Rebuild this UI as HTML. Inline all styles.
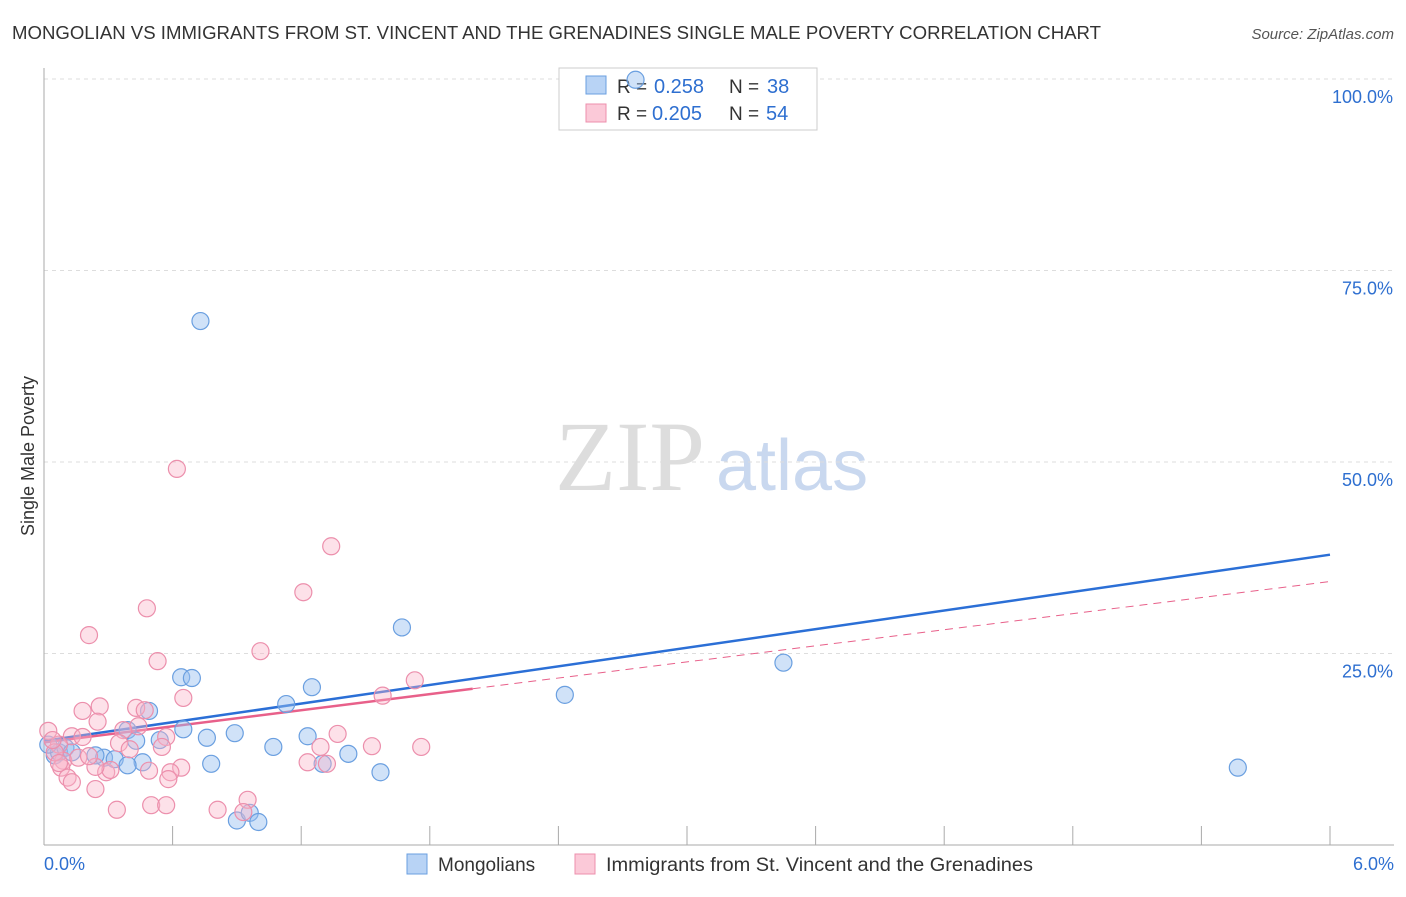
<!DOCTYPE html>
<html><head><meta charset="utf-8"><style>
body{margin:0;background:#fff;font-family:"Liberation Sans",sans-serif;}
</style></head><body>
<svg width="1406" height="892" id="c" xmlns="http://www.w3.org/2000/svg">
<text x="12" y="39" font-size="18" fill="#333" textLength="1089" lengthAdjust="spacingAndGlyphs">MONGOLIAN VS IMMIGRANTS FROM ST. VINCENT AND THE GRENADINES SINGLE MALE POVERTY CORRELATION CHART</text>
<text x="1394" y="39" font-size="15" fill="#555" font-style="italic" text-anchor="end">Source: ZipAtlas.com</text>
<text x="34" y="456" font-size="18" fill="#333" transform="rotate(-90 34 456)" text-anchor="middle">Single Male Poverty</text>
<text x="555" y="490" font-size="100" fill="#ddd" font-family="Liberation Serif,serif">ZIP</text>
<text x="716" y="490" font-size="72" fill="#c9d8ef">atlas</text>
<g id="grid"></g><g id="lines"></g>
<g>
<rect x="559" y="68" width="258" height="62" fill="#fff" stroke="#ccc"/>
<rect x="586" y="76" width="20" height="18" fill="#b8d3f5" stroke="#6a9fe0"/>
<rect x="586" y="104" width="20" height="18" fill="#fbc9d8" stroke="#ec8fac"/>
<text x="617" y="93" font-size="19" fill="#333">R =</text><text x="654" y="93" font-size="20" fill="#2e6fd0">0.258</text>
<text x="729" y="93" font-size="19" fill="#333">N =</text><text x="767" y="93" font-size="20" fill="#2e6fd0">38</text>
<text x="617" y="120" font-size="19" fill="#333">R =</text><text x="652" y="120" font-size="20" fill="#2e6fd0">0.205</text>
<text x="729" y="120" font-size="19" fill="#333">N =</text><text x="766" y="120" font-size="20" fill="#2e6fd0">54</text>
</g>
<g id="pts"></g>
<g>
<rect x="407" y="854" width="20" height="20" fill="#b8d3f5" stroke="#6a9fe0"/>
<text x="438" y="871" font-size="19" fill="#333">Mongolians</text>
<rect x="575" y="854" width="20" height="20" fill="#fbc9d8" stroke="#ec8fac"/>
<text x="606" y="871" font-size="19" fill="#333" textLength="427" lengthAdjust="spacingAndGlyphs">Immigrants from St. Vincent and the Grenadines</text>
</g>
<text x="44" y="870" font-size="18" fill="#2e6fd0">0.0%</text>
<text x="1394" y="870" font-size="18" fill="#2e6fd0" text-anchor="end">6.0%</text>
</svg>
<script>
const yTicks=[25,50,75,100];
const blueX=[0.73,2.76,1.67,3.45,2.43,5.57,0.64,0.69,1.25,1.13,0.49,0.65,0.39,0.89,1.23,0.76,0.54,0.43,1.42,1.07,0.28,0.33,0.46,0.78,0.39,1.30,1.57,0.90,0.96,1.00,0.05,0.07,0.02,0.10,0.13,0.24];
const blueY=[68.4,99.9,28.4,23.8,19.6,10.1,21.9,21.8,20.6,18.4,17.5,15.1,15.0,14.6,14.2,14.0,13.7,13.6,11.9,12.8,11.4,11.2,10.8,10.6,10.4,10.6,9.5,3.2,4.2,3.0,11.7,12.1,13.1,12.7,12.1,11.7];
const pinkX=[0.62,1.34,1.21,0.48,0.21,1.01,0.53,1.73,0.65,1.58,0.26,0.18,0.43,0.47,0.25,0.44,0.37,0.02,0.57,0.13,0.18,1.37,0.35,0.55,1.29,1.53,1.76,0.07,0.40,1.23,1.32,0.64,0.29,0.31,0.49,0.59,0.58,0.24,0.09,0.08,0.11,0.13,0.24,0.34,0.50,0.57,0.81,0.95,0.93,0.05,0.16,0.21,0.04,0.07];
const pinkY=[49.1,39.0,33.0,30.9,27.4,25.3,24.0,21.5,19.2,19.5,18.1,17.5,17.9,17.6,16.1,15.5,15.0,14.9,14.1,14.2,14.1,14.5,13.3,12.8,12.8,12.9,12.8,13.1,12.5,10.8,10.6,10.1,9.5,9.8,9.7,9.5,8.6,10.2,11.0,10.1,8.8,8.2,7.3,4.6,5.2,5.2,4.6,5.9,4.3,12.1,11.4,11.6,13.7,10.7];
const blueFit=[13.6,4.05];
const pinkFit=[13.4,3.5];
const X=v=>44+v*214.33, Y=v=>845-v*7.66;
const NS='http://www.w3.org/2000/svg';
function mk(t,a,p){const e=document.createElementNS(NS,t);for(const k in a)e.setAttribute(k,a[k]);p.appendChild(e);return e;}
const g=document.getElementById('grid');
yTicks.forEach(t=>{
 const l=mk('line',{x1:44,x2:1394,y1:Y(t),y2:Y(t),stroke:'#ddd','stroke-dasharray':'4,4'},g);
 
 
 const tx=mk('text',{x:1393,y:Y(t)+24,'font-size':18,fill:'#2e6fd0','text-anchor':'end'},g);tx.textContent=t.toFixed(1)+'%';
 
 
});
const ax=mk('line',{x1:44,x2:44,y1:68,y2:845,stroke:'#aaa'},g);


const bx=mk('line',{x1:44,x2:1394,y1:845,y2:845,stroke:'#aaa'},g);


for(let i=0;i<=10;i++){const t=mk('line',{x1:44+i*128.6,x2:44+i*128.6,y1:826,y2:845,stroke:'#aaa'},g);
 
 }
const p=document.getElementById('pts');
blueX.forEach((v,i)=>{const c=mk('circle',{cx:X(v),cy:Y(blueY[i]),r:8.5,fill:'rgba(150,190,240,0.45)',stroke:'#6a9fe0','stroke-width':1.2},p);
 
 });
pinkX.forEach((v,i)=>{const c=mk('circle',{cx:X(v),cy:Y(pinkY[i]),r:8.5,fill:'rgba(250,180,200,0.4)',stroke:'#ec8fac','stroke-width':1.2},p);
 
 });
const L=document.getElementById('lines');
const b=mk('line',{x1:X(0),y1:Y(blueFit[0]),x2:X(6),y2:Y(blueFit[0]+6*blueFit[1]),stroke:'#2b6fd6','stroke-width':2.5},L);


const pk=mk('line',{x1:X(0),y1:Y(pinkFit[0]),x2:X(2),y2:Y(pinkFit[0]+2*pinkFit[1]),stroke:'#e8608a','stroke-width':2.5},L);


const pd=mk('line',{x1:X(2),y1:Y(pinkFit[0]+2*pinkFit[1]),x2:X(6),y2:Y(pinkFit[0]+6*pinkFit[1]),stroke:'#e8608a','stroke-width':1,'stroke-dasharray':'8,6'},L);


</script>
</body></html>
